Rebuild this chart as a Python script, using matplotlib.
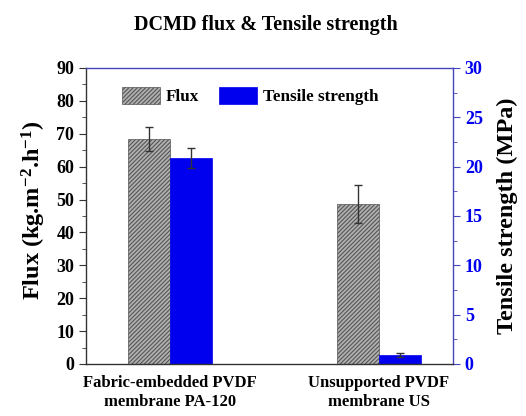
import matplotlib
matplotlib.use("Agg")
import matplotlib.pyplot as plt
from matplotlib.ticker import MultipleLocator
import numpy as np

categories = ["Fabric-embedded PVDF\nmembrane PA-120", "Unsupported PVDF\nmembrane US"]
flux = [68.5, 48.6]
flux_err = [3.7, 5.8]
tensile = [20.9, 0.9]
tensile_err = [1.0, 0.2]

plt.rcParams['font.family'] = ['Liberation Serif', 'DejaVu Serif']
plt.rcParams['font.weight'] = 'bold'
plt.rcParams['mathtext.fontset'] = 'custom'
plt.rcParams['mathtext.rm'] = 'Liberation Serif:bold'
plt.rcParams['mathtext.bf'] = 'Liberation Serif:bold'
plt.rcParams['mathtext.it'] = 'Liberation Serif:bold:italic'
plt.rcParams['mathtext.default'] = 'bf'
plt.rcParams['hatch.color'] = '#333333'
plt.rcParams['hatch.linewidth'] = 0.8

blue = '#0000ee'
axblue = '#4444bb'

fig = plt.figure(figsize=(5.26, 4.16), dpi=100)
ax = fig.add_axes([86/526, 1-364/416, (453-86)/526, (364-68)/416])
ax2 = ax.twinx()

x = np.arange(len(categories))
w = 0.2
ax.bar(x - w/2, flux, w, yerr=flux_err, color='#b0b0b0', hatch='////////', edgecolor='#555555',
       linewidth=0.5, error_kw=dict(ecolor='#333333', elinewidth=1, capsize=3, capthick=1), label='Flux')
ax2.bar(x + w/2, tensile, w, yerr=tensile_err, color=blue, edgecolor=blue, linewidth=0.5,
        error_kw=dict(ecolor='#333333', elinewidth=1, capsize=3, capthick=1), label='Tensile strength')

ax.set_xlim(-0.402, 1.354)
ax.set_ylim(0, 90)
ax2.set_ylim(0, 30)
ax.yaxis.set_major_locator(MultipleLocator(10))
ax.yaxis.set_minor_locator(MultipleLocator(5))
ax2.yaxis.set_major_locator(MultipleLocator(5))
ax2.yaxis.set_minor_locator(MultipleLocator(2.5))

ax.set_xticks(x)
ax.set_xticklabels(categories, fontsize=12, fontweight='bold')
ax.tick_params(axis='x', length=0, pad=8)
ax.tick_params(axis='y', which='major', length=5, labelsize=13, direction='out', color='#333333')
ax.tick_params(axis='y', which='minor', length=3, direction='out', color='#333333')
ax2.tick_params(axis='y', which='major', length=5, labelsize=13, direction='out', colors=axblue, labelcolor=blue)
ax2.tick_params(axis='y', which='minor', length=3, direction='out', color=axblue)
for lbl in ax.get_yticklabels() + ax2.get_yticklabels():
    lbl.set_fontweight('bold')

for s in ['top', 'right']:
    ax2.spines[s].set_color(axblue)
ax2.spines['left'].set_color('#333333')
ax2.spines['bottom'].set_color('#333333')
for s in ax.spines.values():
    s.set_visible(False)
for s in ax2.spines.values():
    s.set_linewidth(1.0)

ax.set_ylabel(r'Flux (kg.m$^{-2}$.h$^{-1}$)', fontsize=17.5, fontweight='bold')
ax.yaxis.set_label_coords(-0.103, 0.52)
ax2.set_ylabel('Tensile strength (MPa)', fontsize=17.5, fontweight='bold', labelpad=10)

fig.suptitle('DCMD flux & Tensile strength', x=0.505, y=0.965, fontsize=14.5, fontweight='bold')

h1, l1 = ax.get_legend_handles_labels()
h2, l2 = ax2.get_legend_handles_labels()
ax.legend(h1 + h2, l1 + l2, loc='upper left', bbox_to_anchor=(0.098, 0.937), ncol=2, frameon=False,
          borderpad=0, borderaxespad=0,
          prop=dict(weight='bold', size=12.3), handlelength=2.2, handleheight=1.2, columnspacing=1.2,
          handletextpad=0.35)

fig.savefig('out.png', dpi=100)
